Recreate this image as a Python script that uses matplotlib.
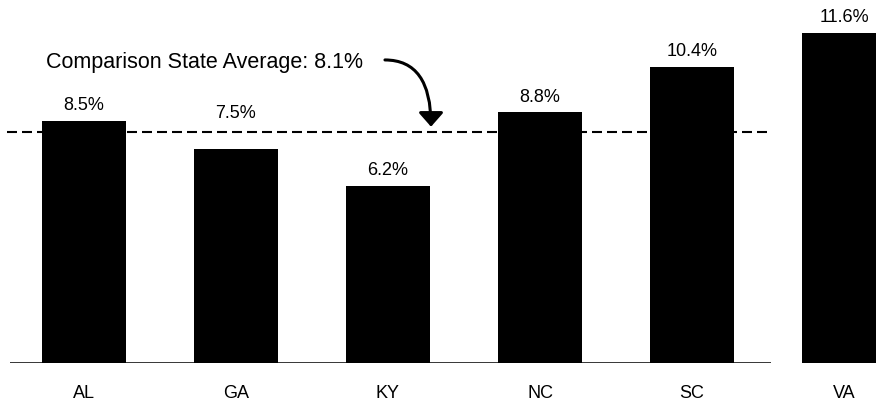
import matplotlib
matplotlib.use("Agg")
import matplotlib.pyplot as plt

plt.rcParams['font.family'] = ['Liberation Sans Narrow', 'Liberation Sans', 'DejaVu Sans']

states = ["AL", "GA", "KY", "NC", "SC", "VA"]
rates = [8.5, 7.5, 6.2, 8.8, 10.4, 11.6]
state_avg = 8.1
avg_label = "Comparison State Average: 8.1%"


def main():
    fig = plt.figure(figsize=(8.76, 4.03), dpi=100)
    ax = fig.add_axes([0, 40.5 / 403, 1, 362.5 / 403])

    xs = list(range(len(states)))
    width = 0.553
    ax.bar(xs, rates, width=width, color="black", zorder=2)

    # value labels; GA's is lifted above the average line
    for x, s, v in zip(xs, states, rates):
        lift = 20 if s == "GA" else 0
        ax.annotate(f"{v}%", (x, v), xytext=(0, 7 + lift), textcoords="offset pixels",
                    ha="center", va="bottom", fontsize=13)

    # baseline stops before VA
    x0 = xs[0] - width / 2 - 0.21
    x1 = xs[-2] + width / 2 + 0.24
    ax.hlines(0, x0, x1, color="black", lw=1.1, zorder=3)
    ax.hlines(state_avg, x0 - 0.02, x1, color="black", lw=1.5,
              linestyles=(0, (4.8, 2.4)), zorder=1)

    ax.text(0.796, 10.55, avg_label, ha="center", va="center", fontsize=15.5)
    ax.annotate("", xy=(2.283, state_avg + 0.2), xytext=(1.98, 10.65),
                arrowprops=dict(arrowstyle="-|>,head_length=0.85,head_width=0.75",
                                color="black", lw=2.2, shrinkA=0, shrinkB=0,
                                connectionstyle="angle3,angleA=0,angleB=90"))

    ax.set_xlim(-0.5526, 5.2105)
    ax.set_ylim(0, 12.76)
    ax.set_xticks(xs)
    ax.set_xticklabels(states, fontsize=13)
    ax.tick_params(axis="x", length=0, pad=16)
    ax.set_yticks([])
    for sp in ax.spines.values():
        sp.set_visible(False)

    fig.savefig("out.png", dpi=100)


if __name__ == "__main__":
    main()
